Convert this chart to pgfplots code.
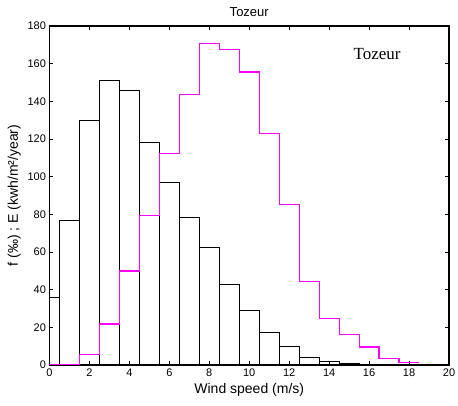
\documentclass[border=0pt]{standalone}
\usepackage{fontspec}
\setmainfont{Liberation Sans}
\newfontfamily\timesfont{Liberation Serif}
\usepackage{pgfplots}
\pgfplotsset{compat=1.18}
\definecolor{mag}{RGB}{255,0,255}
\begin{document}
\begin{tikzpicture}
\begin{axis}[
 name=ax,
 scale only axis,
 width=399.5pt, height=339pt,
 xmin=0, xmax=20, ymin=0, ymax=180,
 xtick={0,2,...,20}, ytick={0,20,...,180},
 tick align=inside,
 major tick length=4pt,
 tick style={black, line width=0.7pt},
 axis line style={black, line width=1.1pt},
 tick label style={font=\fontsize{11}{13}\selectfont},
 /pgf/number format/assume math mode=true,
 xlabel={Wind speed (m/s)},
 ylabel={f (‰) ; E (kwh/m²/year)},
 label style={font=\fontsize{14}{16}\selectfont},
 title={Tozeur},
 title style={font=\fontsize{13}{15}\selectfont},
 clip=true,
]
\addplot[ybar, bar width=1, bar shift=0, draw=black, fill=none, line width=1pt] coordinates {
(0,36) (1,76.6) (2,129.6) (3,151.2) (4,145.5) (5,118.1) (6,96.8) (7,78.2) (8,62.3) (9,42.9)
(10,29.2) (11,17.5) (12,9.6) (13,4.1) (14,1.9) (15,0.9) (16,0.4) (17,0.2) (18,0.1) (19,0.1)
};
\addplot[const plot, color=mag, line width=1.2pt] coordinates {
(0,0.3) (1.5,5.7) (2.5,21.8) (3.5,49.9) (4.5,79.5) (5.5,112.4) (6.5,143.8) (7.5,170.8)
(8.5,167.7) (9.5,155.6) (10.5,123) (11.5,85.3) (12.5,44.4) (13.5,24.8) (14.5,16.1)
(15.5,9.6) (16.5,3.4) (17.5,1.4) (18.5,1.4)
};
\node[font=\timesfont\fontsize{17}{19}\selectfont] at (axis cs:16.4,165) {Tozeur};
\end{axis}
\pgfresetboundingbox
\path[use as bounding box] ([xshift=-49.5pt,yshift=-41pt]ax.south west) rectangle ([xshift=9pt,yshift=26pt]ax.north east);
\end{tikzpicture}
\end{document}
